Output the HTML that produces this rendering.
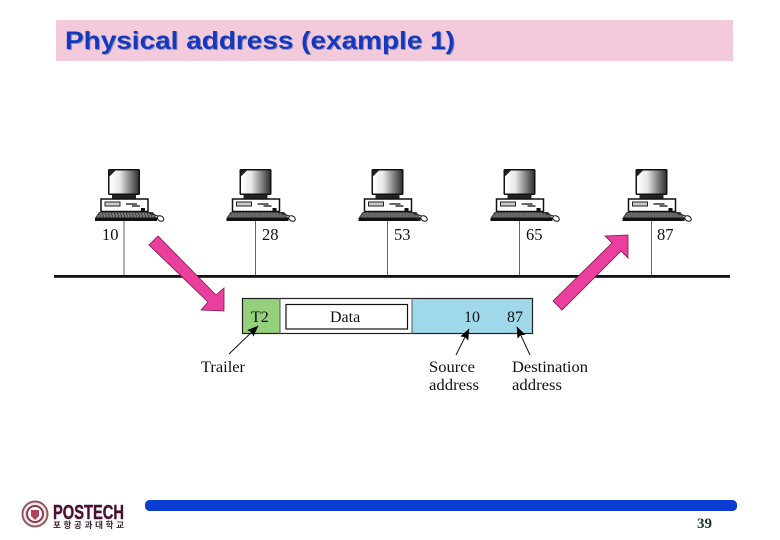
<!DOCTYPE html>
<html><head><meta charset="utf-8"><style>
html,body{margin:0;padding:0;background:#fff}
svg{display:block}
text{font-family:"Liberation Serif","Noto Serif CJK SC",serif;fill:#111}
</style></head><body>
<svg width="780" height="540" viewBox="0 0 780 540" xmlns="http://www.w3.org/2000/svg">
<defs>
<linearGradient id="scr" x1="0" x2="1" y1="0" y2="0"><stop offset="0" stop-color="#fff"/><stop offset="0.350" stop-color="#e8e8e8"/><stop offset="1" stop-color="#333"/></linearGradient>
<g id="pc">
<rect x="-16" y="169" width="32" height="26" rx="1.500" fill="#111"/>
<rect x="-14.500" y="170.500" width="29" height="23" fill="url(#scr)"/>
<path d="M-14.500 170.500h6l-6 6z" fill="#222"/>
<rect x="-12" y="195" width="24" height="4" fill="#222"/>
<rect x="-23" y="199" width="47" height="12.500" fill="#fff" stroke="#111" stroke-width="1.500"/>
<rect x="-19" y="202" width="15" height="4" fill="#ccc" stroke="#222"/>
<path d="M2 204h11M8 206h8" stroke="#333" stroke-width="1.500"/>
<rect x="17" y="208" width="4" height="3" fill="#111"/>
<path d="M-25 212h54l4 6h-62z" fill="#444"/>
<path d="M-24 214h54M-26 216h58" stroke="#ccc" stroke-width="0.800" stroke-dasharray="2 1"/>
<rect x="-29" y="218" width="62" height="3" fill="#111"/>
<path d="M22 212l12 4" stroke="#222"/>
<ellipse cx="36.500" cy="218.500" rx="3.500" ry="2.500" transform="rotate(30 36.500 218.500)" fill="#fff" stroke="#111"/>
<rect x="-0.500" y="221" width="1" height="55" fill="#666"/>
</g>
<marker id="ah" viewBox="0 0 10 8" refX="9.500" refY="4" markerWidth="12" markerHeight="9" orient="auto" markerUnits="userSpaceOnUse"><path d="M0 0L10 4L0 8L1.500 4z" fill="#000"/></marker>
</defs>

<rect x="56" y="20" width="677" height="41" fill="#f3c9dc"/>
<text x="66" y="50" textLength="390" lengthAdjust="spacingAndGlyphs" style="font-family:'Liberation Sans',sans-serif;font-weight:bold;font-size:25px;fill:#8f8fa8">Physical address (example 1)</text>
<text x="65" y="49" textLength="390" lengthAdjust="spacingAndGlyphs" style="font-family:'Liberation Sans',sans-serif;font-weight:bold;font-size:25px;fill:#1438c0">Physical address (example 1)</text>

<use href="#pc" x="124"/>
<use href="#pc" x="255.500"/>
<use href="#pc" x="387.500"/>
<use href="#pc" x="519.500"/>
<use href="#pc" x="651.500"/>

<g font-size="16.500">
<text x="102" y="240">10</text>
<text x="262" y="240">28</text>
<text x="394" y="240">53</text>
<text x="526" y="240">65</text>
<text x="657" y="240">87</text>
</g>

<rect x="54" y="275" width="676" height="2.800" fill="#111"/>

<rect x="243" y="298.500" width="37" height="35" fill="#95d07c"/>
<rect x="412" y="298.500" width="121" height="35" fill="#9fd9ea"/>
<rect x="242.500" y="298.500" width="290" height="35" fill="none" stroke="#222" stroke-width="1.200"/>
<path d="M280 298v36M412 298v36" stroke="#555" stroke-width="1"/>
<rect x="286" y="304.500" width="121.500" height="24.500" fill="#fff" stroke="#111" stroke-width="1.200"/>

<g font-size="16">
<text x="251" y="322">T2</text>
<text x="330" y="322">Data</text>
<text x="464" y="322">10</text>
<text x="507" y="322">87</text>
<text x="201" y="372" textLength="44" lengthAdjust="spacingAndGlyphs">Trailer</text>
<text x="429" y="372" textLength="46" lengthAdjust="spacingAndGlyphs">Source</text>
<text x="429" y="390" textLength="50" lengthAdjust="spacingAndGlyphs">address</text>
<text x="512" y="372" textLength="76" lengthAdjust="spacingAndGlyphs">Destination</text>
<text x="512" y="390" textLength="50" lengthAdjust="spacingAndGlyphs">address</text>
</g>

<g stroke="#111" stroke-width="1" fill="none" marker-end="url(#ah)">
<path d="M229 354L258 326"/>
<path d="M456 355L469 329"/>
<path d="M530 355L517 327"/>
</g>

<polygon points="158,236 149,245 208,302 201,310 224,311 224,288 216,295" fill="#ea3f9c" stroke="#7a1550" stroke-width="0.800"/>
<polygon points="553,301 562,310 621,251 628,258 628,235 605,236 612,243" fill="#ea3f9c" stroke="#7a1550" stroke-width="0.800"/>

<rect x="145" y="500" width="592" height="11" rx="4.500" fill="#0a3ed2"/>
<text x="697" y="528" font-size="15" font-weight="bold" style="fill:#123a24">39</text>

<g>
<circle cx="35" cy="514" r="12.500" fill="#f4e8e6" stroke="#8a5a60" stroke-width="2"/>
<circle cx="35" cy="514" r="8" fill="#fff" stroke="#8a3a50" stroke-width="2"/>
<path d="M31 510h8v6l-4 4l-4-4z" fill="#b04060"/>
<text x="53" y="519" textLength="71" lengthAdjust="spacingAndGlyphs" stroke="#4a0f32" stroke-width="0.400" style="font-family:'Liberation Sans',sans-serif;font-weight:bold;font-size:20px;fill:#4a0f32">POSTECH</text>
<text x="53" y="528" textLength="71" lengthAdjust="spacing" style="font-family:'Liberation Sans','Noto Sans CJK KR',sans-serif;font-weight:bold;font-size:8.500px;fill:#3a2030">포항공과대학교</text>
</g>
</svg>
</body></html>
